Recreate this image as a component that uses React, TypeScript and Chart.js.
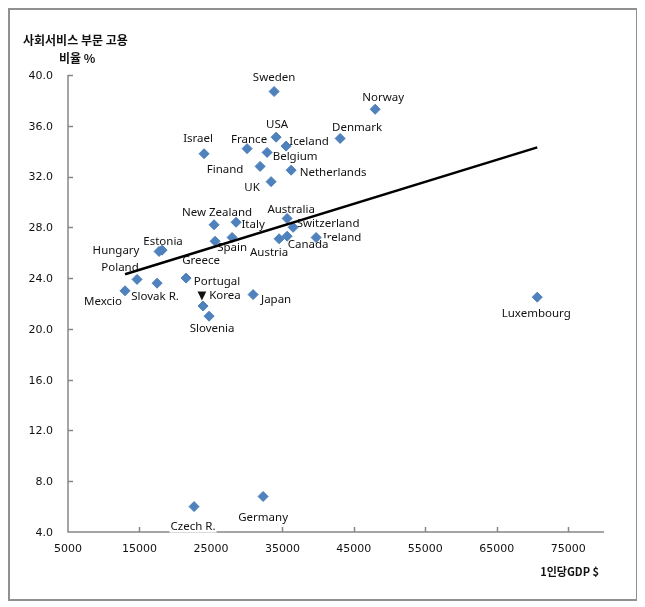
import React, { useEffect, useRef } from "react";
import { Chart, registerables } from "chart.js";

Chart.register(...registerables);

const countries = [
  "Sweden", "Norway", "Denmark", "USA", "Iceland", "France", "Israel", "Belgium",
  "Finand", "Netherlands", "UK", "New Zealand", "Italy", "Australia", "Switzerland",
  "Ireland", "Canada", "Austria", "Spain", "Greece", "Estonia", "Hungary", "Poland",
  "Slovak R.", "Mexcio", "Portugal", "▼ Korea", "Slovenia", "Japan", "Luxembourg",
  "Czech R.", "Germany",
];
const gdpPerCapita = [
  33840, 47980, 43080, 34120, 35520, 30060, 24040, 32860,
  31880, 36220, 33420, 25440, 28520, 35660, 36500,
  39720, 35660, 34540, 27960, 25580, 18160, 17740, 14660,
  17460, 12980, 21520, 23900, 24740, 30900, 70660,
  22640, 32300,
];
const serviceShare = [
  38.7, 37.3, 35.0, 35.1, 34.4, 34.2, 33.8, 33.9,
  32.8, 32.5, 31.6, 28.2, 28.4, 28.7, 28.0,
  27.2, 27.3, 27.1, 27.2, 26.9, 26.2, 26.1, 23.9,
  23.6, 23.0, 24.0, 21.8, 21.0, 22.7, 22.5,
  6.0, 6.8,
];
const trendX = [12980, 70660];
const trendY = [24.3, 34.3];
const xTicks = [5000, 15000, 25000, 35000, 45000, 55000, 65000, 75000];
const yTicks = [4, 8, 12, 16, 20, 24, 28, 32, 36, 40];
const yTitleLines = ["사회서비스 부문 고용", "비율 %"];
const xTitle = "1인당GDP $";

// label placement (pixel offsets from each marker), styling only
const labelOffsets: [number, number][] = [
  [0, -14], [8, -12], [17, -11], [1, -12], [23, -4], [2, -9], [-6, -15], [28, 4],
  [-35, 3], [42, 3], [-19, 6], [3, -12], [17, 2], [4, -9], [35, -4],
  [26, 0], [21, 8], [-10, 14], [0, 10], [-14, 19], [1, -8], [-43, -1], [-17, -12],
  [-2, 14], [-22, 11], [31, 4], [16, -10], [3, 13], [23, 5], [-1, 17],
  [-1, 20], [0, 21],
];

const AXIS_COLOR = "#868686";
const TEXT_COLOR = "#111111";

const decorPlugin = {
  id: "decor",
  beforeDatasetsDraw(chart: any) {
    const { ctx, chartArea: a, scales } = chart;
    const x = scales.x;
    const y = scales.y;
    ctx.save();
    ctx.strokeStyle = AXIS_COLOR;
    ctx.lineWidth = 1.5;
    ctx.beginPath();
    ctx.moveTo(a.left, a.top);
    ctx.lineTo(a.left, a.bottom);
    ctx.lineTo(a.right, a.bottom);
    ctx.stroke();
    ctx.beginPath();
    yTicks.forEach((v, i) => {
      if (i === 0) return;
      const py = Math.round(y.getPixelForValue(v)) + 0.5;
      ctx.moveTo(a.left, py);
      ctx.lineTo(a.left + 5, py);
    });
    xTicks.forEach((v, i) => {
      if (i === 0) return;
      const px = Math.round(x.getPixelForValue(v)) + 0.5;
      ctx.moveTo(px, a.bottom);
      ctx.lineTo(px, a.bottom - 5);
    });
    ctx.stroke();

    const meta = chart.getDatasetMeta(0);
    ctx.font = '11.5px "Noto Sans", "DejaVu Sans", sans-serif';
    ctx.textAlign = "center";
    ctx.textBaseline = "middle";
    meta.data.forEach((pt: any, i: number) => {
      const [dx, dy] = labelOffsets[i];
      const tx = pt.x + dx;
      const ty = pt.y + dy;
      const w = ctx.measureText(countries[i]).width;
      ctx.fillStyle = "#ffffff";
      ctx.fillRect(tx - w / 2 - 1, ty - 6, w + 2, 12);
      ctx.fillStyle = TEXT_COLOR;
      ctx.fillText(countries[i], tx, ty);
    });
    ctx.restore();
  },
  afterDraw(chart: any) {
    const { ctx } = chart;
    ctx.save();
    ctx.fillStyle = TEXT_COLOR;
    ctx.textBaseline = "middle";
    ctx.font = 'bold 12px "Noto Sans CJK KR", sans-serif';
    ctx.textAlign = "left";
    ctx.fillText(yTitleLines[0], 13, 30);
    ctx.fillText(yTitleLines[1], 49, 48);
    ctx.font = 'bold 11px "Noto Sans CJK KR", sans-serif';
    ctx.textAlign = "right";
    ctx.fillText(xTitle, 589, 562);
    ctx.restore();
  },
};

export default function App() {
  const canvasRef = useRef<HTMLCanvasElement | null>(null);

  useEffect(() => {
    const canvas = canvasRef.current;
    if (!canvas) return;
    const tickFont = { family: '"DejaVu Sans", sans-serif', size: 11 };
    const chart = new Chart(canvas, {
      type: "scatter",
      data: {
        datasets: [
          {
            data: gdpPerCapita.map((g, i) => ({ x: g, y: serviceShare[i] })),
            pointStyle: "rectRot",
            pointRadius: 5,
            pointHoverRadius: 5,
            backgroundColor: "#4F81BD",
            borderColor: "#4A7EBB",
            borderWidth: 1,
            order: 2,
          },
          {
            type: "line",
            data: trendX.map((v, i) => ({ x: v, y: trendY[i] })),
            showLine: true,
            borderColor: "#000000",
            borderWidth: 2.5,
            pointRadius: 0,
            fill: false,
            order: 1,
          } as any,
        ],
      },
      options: {
        animation: false,
        responsive: false,
        events: [],
        layout: { padding: { top: 65, right: 32, left: 0, bottom: 0 } },
        plugins: { legend: { display: false }, tooltip: { enabled: false } },
        scales: {
          x: {
            type: "linear",
            min: 5000,
            max: 80000,
            grid: { display: false, drawTicks: false },
            border: { display: false },
            ticks: {
              padding: 11,
              font: tickFont,
              color: TEXT_COLOR,
              maxRotation: 0,
              autoSkip: false,
              callback: (v: any) => String(v),
            },
            afterBuildTicks: (s: any) => {
              s.ticks = xTicks.map((v) => ({ value: v }));
            },
            afterFit: (s: any) => {
              s.height = 67;
            },
          },
          y: {
            type: "linear",
            min: 4,
            max: 40,
            grid: { display: false, drawTicks: false },
            border: { display: false },
            ticks: {
              padding: 15,
              labelOffset: 1,
              font: tickFont,
              color: TEXT_COLOR,
              autoSkip: false,
              callback: (v: any) => Number(v).toFixed(1),
            },
            afterBuildTicks: (s: any) => {
              s.ticks = yTicks.map((v) => ({ value: v }));
            },
            afterFit: (s: any) => {
              s.width = 58;
            },
          },
        },
      },
      plugins: [decorPlugin],
    });
    return () => chart.destroy();
  }, []);

  return (
    <div
      style={{
        width: 630,
        height: 593,
        border: "2px solid #909090",
        boxSizing: "border-box",
        background: "#ffffff",
      }}
    >
      <canvas ref={canvasRef} width={626} height={589} style={{ display: "block" }} />
    </div>
  );
}
